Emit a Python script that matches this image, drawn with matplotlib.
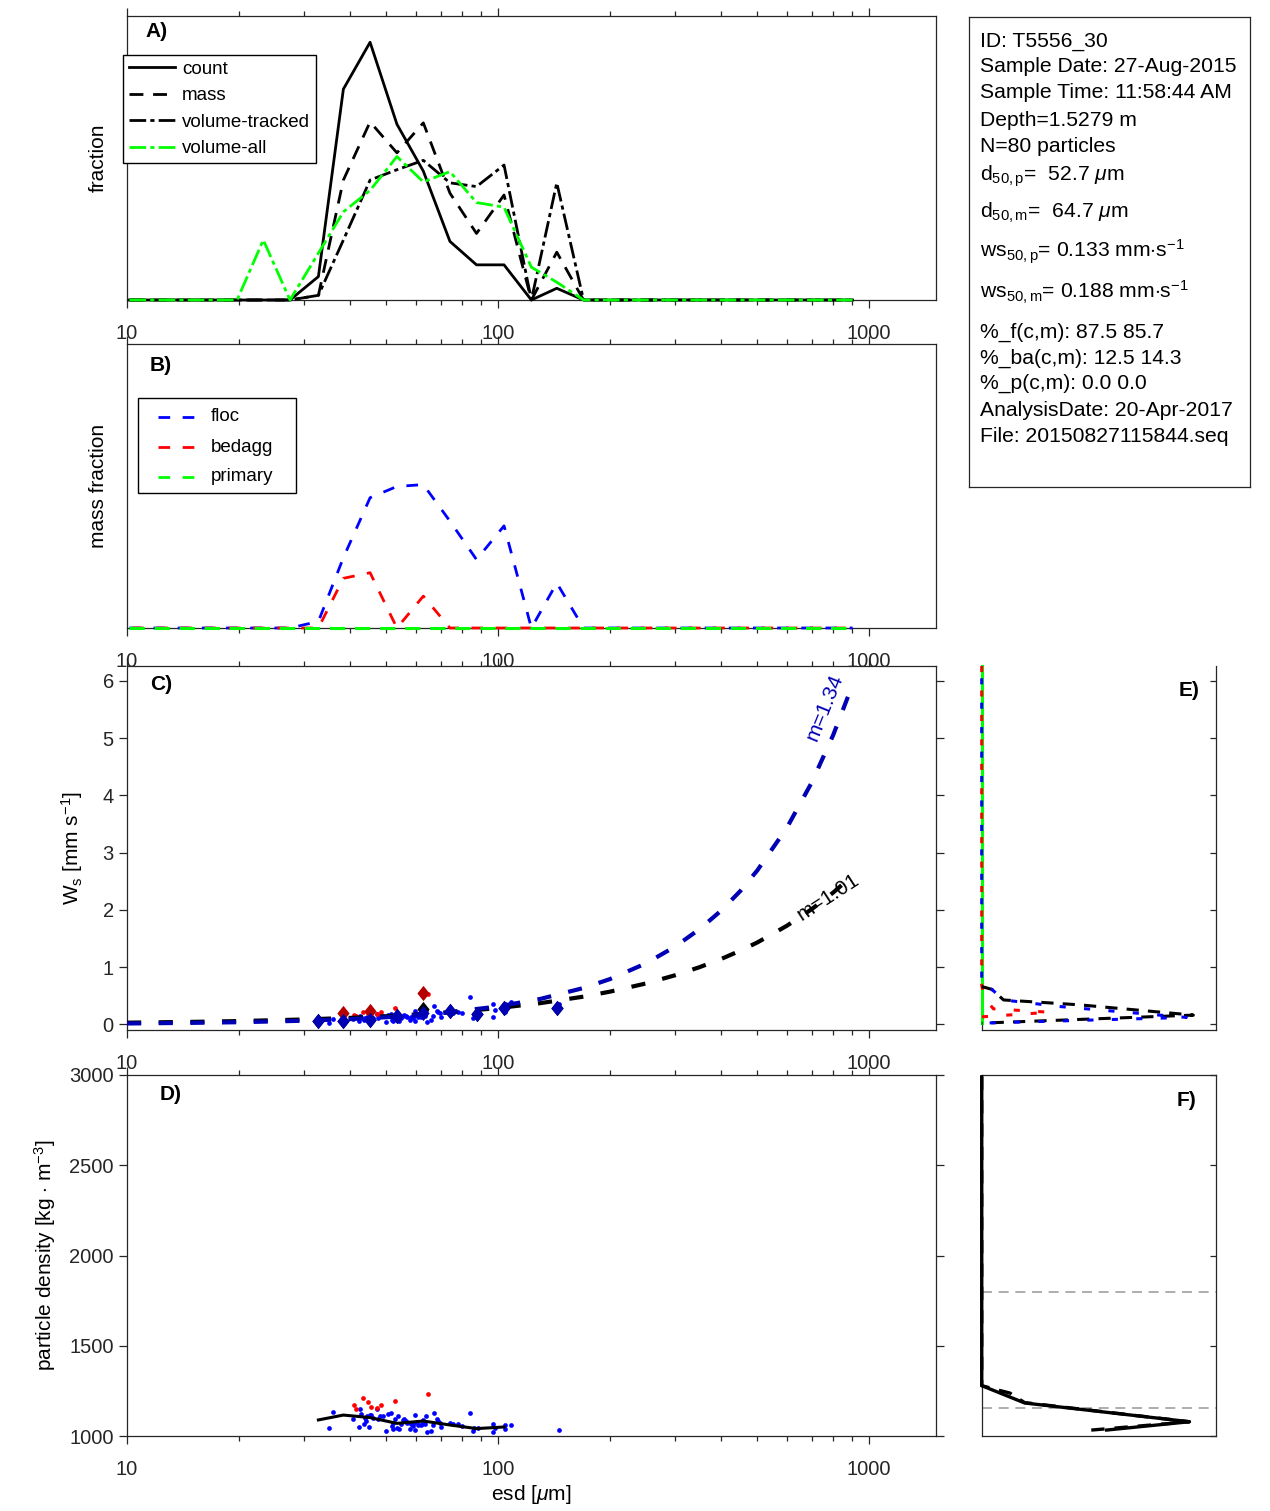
import numpy as np
import matplotlib.pyplot as plt
from matplotlib.ticker import LogLocator, NullFormatter
from matplotlib.patches import Rectangle

plt.rcParams['font.family'] = ['Liberation Sans', 'DejaVu Sans']
plt.rcParams['mathtext.fontset'] = 'custom'
plt.rcParams['mathtext.rm'] = 'Liberation Sans'
plt.rcParams['mathtext.it'] = 'Liberation Sans:italic'
plt.rcParams['mathtext.bf'] = 'Liberation Sans:bold'

# ---- data ----
# esd bin centres (um)
esd_bins = [10.15, 12.0, 14.2, 16.8, 19.8, 23.3, 27.5, 32.8, 38.3, 45.2, 53.4, 62.9, 74.2, 87.5,
            103.8, 123.0, 144.0, 170.0, 201.0, 237.0, 280.0, 331.0, 391.0, 462.0, 546.0, 645.0,
            762.0, 903.0]

# panel A: size distributions
frac_count = [0, 0, 0, 0, 0, 0, 0, 0.025, 0.225, 0.275, 0.1875, 0.1375, 0.0625, 0.0375, 0.0375, 0,
              0.0125, 0, 0, 0, 0, 0, 0, 0, 0, 0, 0, 0]
frac_mass = [0, 0, 0, 0, 0, 0, 0, 0.005, 0.128, 0.190, 0.157, 0.189, 0.114, 0.071, 0.112, 0,
             0.051, 0, 0, 0, 0, 0, 0, 0, 0, 0, 0, 0]
frac_voltrk = [0, 0, 0, 0, 0, 0, 0, 0.005, 0.064, 0.128, 0.139, 0.149, 0.125, 0.121, 0.144, 0,
               0.125, 0, 0, 0, 0, 0, 0, 0, 0, 0, 0, 0]
frac_volall = [0, 0, 0, 0, 0, 0.064, 0, 0.050, 0.094, 0.117, 0.153, 0.126, 0.137, 0.104, 0.099,
               0.035, 0.019, 0, 0, 0, 0, 0, 0, 0, 0, 0, 0, 0]

# panel B: mass fraction by class
mfrac_floc = [0, 0, 0, 0, 0, 0, 0, 0.007, 0.075, 0.139, 0.151, 0.153, 0.114, 0.073, 0.109, 0,
              0.048, 0, 0, 0, 0, 0, 0, 0, 0, 0, 0, 0]
mfrac_bedagg = [0, 0, 0, 0, 0, 0, 0, 0, 0.053, 0.059, 0, 0.034, 0, 0, 0, 0,
                0, 0, 0, 0, 0, 0, 0, 0, 0, 0, 0, 0]
mfrac_primary = [0, 0, 0, 0, 0, 0, 0, 0, 0, 0, 0, 0, 0, 0, 0, 0,
                 0, 0, 0, 0, 0, 0, 0, 0, 0, 0, 0, 0]

# individual particles: floc
floc_esd = [35.0, 35.8, 40.6, 42.3, 42.5, 42.8, 43.4, 43.8, 44.1, 44.4, 45.0, 45.2, 45.6, 46.1,
            47.1, 47.6, 48.1, 49.1, 49.9, 50.6, 51.4, 51.7, 52.0, 52.2, 52.7, 53.5, 53.8, 54.2,
            54.8, 55.3, 55.9, 56.5, 56.7, 57.9, 58.3, 58.9, 59.4, 59.7, 59.7, 60.4, 61.0, 61.9,
            62.3, 62.7, 63.5, 63.9, 64.2, 66.0, 66.7, 67.3, 68.4, 69.0, 69.8, 70.1, 74.3, 75.8,
            78.2, 79.8, 84.0, 85.5, 86.1, 88.5, 96.8, 97.0, 98.1, 104.4, 104.4, 108.4, 146.2]
floc_rho = [1046, 1133, 1096, 1050, 1152, 1120, 1065, 1102, 1083, 1111, 1052, 1115, 1116, 1102,
            1152, 1092, 1111, 1111, 1026, 1120, 1129, 1055, 1037, 1074, 1092, 1046, 1111, 1037,
            1065, 1087, 1092, 1083, 1074, 1037, 1065, 1055, 1074, 1116, 1031, 1078, 1061, 1059,
            1065, 1087, 1068, 1111, 1020, 1028, 1059, 1129, 1092, 1083, 1074, 1050, 1074, 1065,
            1065, 1055, 1126, 1028, 1046, 1046, 1068, 1024, 1046, 1059, 1037, 1061, 1031]
floc_ws = [0.031, 0.093, 0.086, 0.049, 0.150, 0.120, 0.067, 0.107, 0.088, 0.119, 0.057, 0.128,
           0.131, 0.118, 0.184, 0.114, 0.140, 0.146, 0.035, 0.167, 0.186, 0.080, 0.055, 0.110,
           0.139, 0.072, 0.175, 0.059, 0.106, 0.145, 0.157, 0.144, 0.130, 0.068, 0.120, 0.104,
           0.142, 0.225, 0.060, 0.155, 0.124, 0.123, 0.137, 0.186, 0.149, 0.247, 0.045, 0.066,
           0.143, 0.318, 0.235, 0.215, 0.196, 0.134, 0.223, 0.204, 0.217, 0.191, 0.485, 0.112,
           0.186, 0.196, 0.347, 0.123, 0.241, 0.350, 0.220, 0.391, 0.361]

# individual particles: bed aggregates
bag_esd = [40.9, 41.4, 43.3, 44.7, 45.6, 47.2, 48.4, 52.8, 64.6]
bag_rho = [1174, 1152, 1209, 1187, 1163, 1155, 1170, 1192, 1231]
bag_ws = [0.159, 0.142, 0.214, 0.204, 0.185, 0.188, 0.217, 0.292, 0.525]

# binned medians (panel C diamonds, panel D line)
med_esd = [32.8, 38.3, 45.2, 53.4, 62.9, 74.2, 87.5, 103.8, 144.0]
med_ws_all = [0.05, 0.06, 0.08, 0.15, 0.27, 0.23, 0.18, 0.29, 0.29]
med_ws_floc = [0.052, 0.052, 0.07, 0.146, 0.20, 0.227, 0.186, 0.29, 0.29]
med_bag_esd = [38.3, 45.2, 62.9]
med_ws_bag = [0.20, 0.23, 0.54]
med_rho_esd = [32.8, 38.3, 45.2, 53.4, 62.9, 74.2, 87.5, 103.8]
med_rho = [1089, 1116, 1102, 1070, 1083, 1061, 1041, 1050]

# settling velocity fits
fit_esd = [10, 15, 20, 30, 40, 50, 70, 100, 130, 170, 200, 250, 300, 350, 400, 450, 500, 600,
           700, 800, 900]
fit_ws_floc = [0.014, 0.025, 0.036, 0.062, 0.091, 0.123, 0.193, 0.311, 0.443, 0.634, 0.788, 1.062,
               1.356, 1.667, 1.99, 2.33, 2.69, 3.43, 4.22, 5.05, 5.91]
fit_ws_all = [0.028, 0.042, 0.056, 0.084, 0.112, 0.140, 0.197, 0.283, 0.369, 0.483, 0.569, 0.712,
              0.856, 1.0, 1.143, 1.287, 1.43, 1.72, 2.01, 2.30, 2.59]

# panel E: ws distributions
e_all_ws = [0.66, 0.61, 0.425, 0.34, 0.16, 0.02]
e_all_frac = [0, 0.013, 0.028, 0.125, 0.271, 0]
e_floc_ws = [6.26, 0.66, 0.61, 0.425, 0.31, 0.12, 0.02]
e_floc_frac = [0, 0, 0.013, 0.028, 0.100, 0.262, 0]
e_bag_ws = [6.26, 0.68, 0.45, 0.27, 0.21, 0.13, 0.02]
e_bag_frac = [0, 0, 0.004, 0.015, 0.087, 0, 0]
e_prim_ws = [6.26, 0.02]
e_prim_frac = [0, 0]

# panel F: density distributions
f_count_rho = [2990, 1279, 1183, 1079, 1033]
f_count_frac = [0, 0, 0.055, 0.266, 0.160]
f_mass_rho = [2990, 1279, 1258, 1238, 1185, 1079, 1029]
f_mass_frac = [0, 0, 0.018, 0.036, 0.055, 0.266, 0.130]
f_ref_rho = [1800, 1153]

info_lines = ['ID: T5556_30',
              'Sample Date: 27-Aug-2015',
              'Sample Time: 11:58:44 AM',
              'Depth=1.5279 m',
              'N=80 particles',
              r'd$_{\mathrm{50,p}}$=  52.7 $\mu$m',
              r'd$_{\mathrm{50,m}}$=  64.7 $\mu$m',
              r'ws$_{\mathrm{50,p}}$= 0.133 mm$\cdot$s$^{\mathrm{-1}}$',
              r'ws$_{\mathrm{50,m}}$= 0.188 mm$\cdot$s$^{\mathrm{-1}}$',
              '%_f(c,m): 87.5 85.7',
              '%_ba(c,m): 12.5 14.3',
              '%_p(c,m): 0.0 0.0',
              'AnalysisDate: 20-Apr-2017',
              'File: 20150827115844.seq']
info_baseline_px = [46.7, 72.3, 98.3, 125.7, 152.3, 180.7, 217.3, 257.3, 299, 337.3, 364, 389,
                    415.7, 442.3]

W, H = 1270, 1511
fig = plt.figure(figsize=(W / 100, H / 100), dpi=100)
GREY = '#262626'
DBLUE = '#0000b4'
DRED = '#b40000'
GREEN = (0, 1, 0)
DIAMOND = [(0, 1), (0.8, 0), (0, -1), (-0.8, 0), (0, 1)]


def px_axes(l, t, r, b):
    return fig.add_axes([l / W, 1 - b / H, (r - l) / W, (b - t) / H])


def style_spines(ax):
    for s in ax.spines.values():
        s.set_color(GREY)
        s.set_linewidth(0.9)


def esd_axis(ax):
    ax.set_xscale('log')
    ax.set_xlim(10, 1515)
    ax.set_xticks([10, 100, 1000])
    ax.set_xticklabels(['10', '100', '1000'])
    ax.xaxis.set_minor_locator(LogLocator(base=10, subs=np.arange(2, 10)))
    ax.xaxis.set_minor_formatter(NullFormatter())
    ax.tick_params(axis='x', which='both', direction='out', top=True, colors=GREY,
                   labelsize=14.5, pad=11, width=0.9)
    ax.tick_params(axis='x', which='major', length=6)
    ax.tick_params(axis='x', which='minor', length=3.5)
    style_spines(ax)


def panel_label(ax, x, y, s):
    ax.text(x, y, s, transform=ax.transAxes, fontsize=15, fontweight='bold',
            ha='center', va='center')


# ---- A ----
ax_a = px_axes(127, 16, 936, 300)
ax_a.plot(esd_bins, frac_count, color='k', lw=2, label='count', clip_on=False, zorder=3)
ax_a.plot(esd_bins, frac_mass, color='k', lw=2, ls=(0, (5, 3.5)), label='mass',
          clip_on=False, zorder=3)
ax_a.plot(esd_bins, frac_voltrk, color='k', lw=2, ls=(0, (6, 1.5, 1.5, 1.5)),
          label='volume-tracked', clip_on=False, zorder=3)
ax_a.plot(esd_bins, frac_volall, color=GREEN, lw=2, ls=(0, (6, 1.5, 1.5, 1.5)),
          label='volume-all', clip_on=False, zorder=3)
esd_axis(ax_a)
ax_a.set_ylim(0, 0.303)
ax_a.set_yticks([])
ax_a.set_ylabel('fraction', fontsize=15)
ax_a.yaxis.label.set_va('center')
ax_a.yaxis.set_label_coords(-0.035, 0.5)
panel_label(ax_a, 0.037, 0.944, 'A)')
leg = ax_a.legend(loc='upper left', bbox_to_anchor=(-0.005, 0.863), fontsize=13.5,
                  frameon=True, fancybox=False, framealpha=1, edgecolor='k',
                  handlelength=2.5, handletextpad=0.35, labelspacing=0.5,
                  borderpad=0.3, borderaxespad=0)
leg.get_frame().set_linewidth(1.0)
leg.set_zorder(6)

# ---- B ----
ax_b = px_axes(127, 344, 936, 628)
ax_b.plot(esd_bins, mfrac_floc, color=(0, 0, 1), lw=2, ls=(0, (4.2, 4.5)), clip_on=False, zorder=3)
ax_b.plot(esd_bins, mfrac_bedagg, color=(1, 0, 0), lw=2, ls=(7.7, (4.2, 4.5)), clip_on=False,
          zorder=3)
ax_b.plot(esd_bins, mfrac_primary, color=GREEN, lw=2.2, ls=(0, (5.0, 3.2)), clip_on=False,
          zorder=3)
esd_axis(ax_b)
ax_b.set_ylim(0, 0.303)
ax_b.set_yticks([])
ax_b.set_ylabel('mass fraction', fontsize=15)
ax_b.yaxis.label.set_va('center')
ax_b.yaxis.set_label_coords(-0.035, 0.5)
panel_label(ax_b, 0.042, 0.926, 'B)')
# legend box drawn by hand to match the original spacing
ax_b.add_patch(Rectangle((0.0136, 0.4754), 0.1953, 0.3345, transform=ax_b.transAxes,
                         facecolor='white', edgecolor='k', lw=1.0, zorder=5, clip_on=False))
for name, col, yy in [('floc', (0, 0, 1), 0.743), ('bedagg', (1, 0, 0), 0.637),
                      ('primary', GREEN, 0.532)]:
    ax_b.plot([0.0383, 0.0865], [yy, yy], color=col, lw=2, ls=(0, (4.2, 4.5)),
              transform=ax_b.transAxes, zorder=6, clip_on=False)
    ax_b.text(0.1038, yy, name, fontsize=13.5, va='center', ha='left',
              transform=ax_b.transAxes, zorder=6)

# ---- C ----
ax_c = px_axes(127, 666, 936, 1030)
ax_c.plot(floc_esd, floc_ws, 'o', color=(0, 0, 1), ms=3.4, mew=0, zorder=2)
ax_c.plot(bag_esd, bag_ws, 'o', color=(1, 0, 0), ms=3.4, mew=0, zorder=2)
ax_c.plot(fit_esd, fit_ws_all, color='k', lw=3, ls=(0, (3.4, 4.2)), zorder=3)
ax_c.plot(fit_esd, fit_ws_floc, color=DBLUE, lw=3, ls=(0, (3.4, 4.2)), zorder=3)
ax_c.plot(med_esd, med_ws_all, marker=DIAMOND, ls='none', color='k', ms=11, mew=0, zorder=4)
ax_c.plot(med_bag_esd, med_ws_bag, marker=DIAMOND, ls='none', color=DRED, ms=11, mew=0, zorder=5)
ax_c.plot(med_esd, med_ws_floc, marker=DIAMOND, ls='none', color=DBLUE, ms=11, mew=0, zorder=5)
ax_c.text(757, 5.54, 'm=1.34', color=DBLUE, fontsize=15, rotation=68, ha='center', va='center')
ax_c.text(775, 2.22, 'm=1.01', color='k', fontsize=15, rotation=33, ha='center', va='center')
esd_axis(ax_c)
ax_c.set_ylim(-0.1, 6.26)
ax_c.set_yticks([0, 1, 2, 3, 4, 5, 6])
ax_c.tick_params(axis='y', direction='out', right=True, length=6, colors=GREY,
                 labelsize=14.5, width=0.9)
ax_c.set_ylabel(r'W$_{\mathrm{s}}$ [mm s$^{\mathrm{-1}}$]', fontsize=15)
ax_c.yaxis.label.set_va('center')
ax_c.yaxis.set_label_coords(-0.068, 0.5)
panel_label(ax_c, 0.042, 0.95, 'C)')

# ---- D ----
ax_d = px_axes(127, 1075, 936, 1436)
ax_d.plot(floc_esd, floc_rho, 'o', color=(0, 0, 1), ms=3.4, mew=0, zorder=2)
ax_d.plot(bag_esd, bag_rho, 'o', color=(1, 0, 0), ms=3.4, mew=0, zorder=2)
ax_d.plot(med_rho_esd, med_rho, color='k', lw=2.2, zorder=3)
esd_axis(ax_d)
ax_d.set_ylim(1000, 3000)
ax_d.set_yticks([1000, 1500, 2000, 2500, 3000])
ax_d.tick_params(axis='y', direction='out', right=True, length=6, colors=GREY,
                 labelsize=14.5, width=0.9)
ax_d.set_ylabel(r'particle density [kg $\cdot$ m$^{\mathrm{-3}}$]', fontsize=15)
ax_d.yaxis.label.set_va('center')
ax_d.yaxis.set_label_coords(-0.101, 0.5)
ax_d.set_xlabel(r'esd [$\mu$m]', fontsize=15)
ax_d.xaxis.label.set_va('center')
ax_d.xaxis.set_label_coords(0.5, -0.163)
panel_label(ax_d, 0.054, 0.945, 'D)')

# ---- E ----
ax_e = px_axes(981.7, 666, 1216, 1030)
ax_e.plot(e_prim_frac, e_prim_ws, color=GREEN, lw=2.2, clip_on=False, zorder=3)
ax_e.plot(e_bag_frac, e_bag_ws, color=(1, 0, 0), lw=2.2, ls=(0, (2.0, 6.0)), clip_on=False,
          zorder=3)
ax_e.plot(e_all_frac, e_all_ws, color='k', lw=2.2, ls=(0, (4, 3)), clip_on=False, zorder=3)
ax_e.plot(e_floc_frac, e_floc_ws, color=(0, 0, 1), lw=2.2, ls=(4, (2.0, 6.0)), clip_on=False,
          zorder=3)
ax_e.set_xlim(0, 0.3)
ax_e.set_ylim(-0.1, 6.26)
ax_e.set_xticks([])
ax_e.set_yticks([0, 1, 2, 3, 4, 5, 6])
ax_e.yaxis.tick_right()
ax_e.tick_params(axis='y', direction='in', length=4, labelright=False, colors=GREY, width=0.9)
style_spines(ax_e)
ax_e.spines['top'].set_visible(False)
panel_label(ax_e, 0.885, 0.934, 'E)')

# ---- F ----
ax_f = px_axes(981.7, 1075, 1216, 1436)
for r in f_ref_rho:
    ax_f.axhline(r, color='#a0a0a0', lw=1.2, ls=(0, (6, 4)))
ax_f.plot(f_count_frac, f_count_rho, color='k', lw=2.4, clip_on=False, zorder=3)
ax_f.plot(f_mass_frac, f_mass_rho, color='k', lw=2.4, ls=(0, (4, 3)), clip_on=False, zorder=3)
ax_f.set_xlim(0, 0.3)
ax_f.set_ylim(1000, 3000)
ax_f.set_xticks([])
ax_f.set_yticks([1000, 1500, 2000, 2500, 3000])
ax_f.yaxis.tick_right()
ax_f.tick_params(axis='y', direction='in', length=4, labelright=False, colors=GREY, width=0.9)
style_spines(ax_f)
panel_label(ax_f, 0.872, 0.93, 'F)')

# ---- info box ----
ax_i = px_axes(969, 17, 1250, 487)
ax_i.set_xticks([])
ax_i.set_yticks([])
style_spines(ax_i)
for s, yb in zip(info_lines, info_baseline_px):
    fig.text(980 / W, 1 - yb / H, s, fontsize=15.2, ha='left', va='baseline')

fig.savefig('out.png', dpi=100)
